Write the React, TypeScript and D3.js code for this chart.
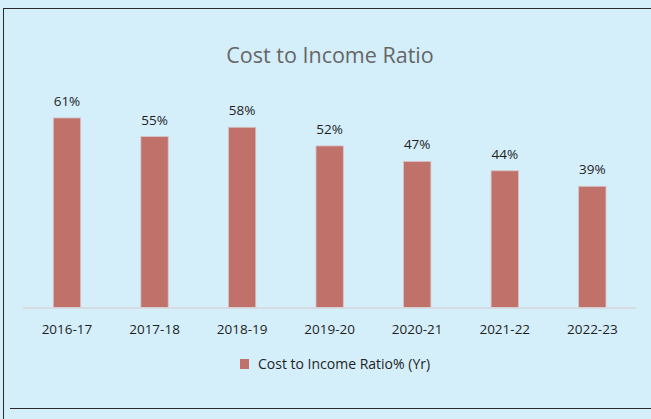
import { useEffect, useRef } from 'react'
import * as d3 from 'd3'

const categories = ['2016-17', '2017-18', '2018-19', '2019-20', '2020-21', '2021-22', '2022-23']
const ratioValues = [61, 55, 58, 52, 47, 44, 39]
const seriesName = 'Cost to Income Ratio% (Yr)'
const chartTitle = 'Cost to Income Ratio'

const width = 651
const height = 419
const font = 'Open Sans, Noto Sans, sans-serif'

export default function App() {
  const svgRef = useRef<SVGSVGElement>(null)

  useEffect(() => {
    if (!svgRef.current) return
    const svg = d3.select(svgRef.current)
    svg.selectAll('*').remove()

    svg.append('rect').attr('width', width).attr('height', height).attr('fill', '#D4EEFA')

    // frame lines
    svg.append('line').attr('x1', 3).attr('x2', width).attr('y1', 8.5).attr('y2', 8.5)
      .attr('stroke', '#2a2a2a').attr('stroke-width', 1)
    svg.append('line').attr('x1', 3.5).attr('x2', 3.5).attr('y1', 8).attr('y2', height)
      .attr('stroke', '#2a2a2a').attr('stroke-width', 1)
    svg.append('line').attr('x1', 10).attr('x2', width).attr('y1', 408.5).attr('y2', 408.5)
      .attr('stroke', '#2a2a2a').attr('stroke-width', 1)

    // title
    svg.append('text')
      .attr('x', 330).attr('y', 62.5)
      .attr('text-anchor', 'middle')
      .attr('fill', '#666666')
      .attr('font-family', font)
      .attr('font-size', '21.5px')
      .text(chartTitle)

    const x = d3.scaleBand<string>()
      .domain(categories)
      .range([23.2, 636.1])
      .paddingInner(0.688)
      .paddingOuter(0.344)

    const y = d3.scaleLinear().domain([0, 70]).range([307.5, 90])

    // bars
    svg.append('g')
      .selectAll('rect')
      .data(ratioValues)
      .enter()
      .append('rect')
      .attr('x', (_, i) => x(categories[i])!)
      .attr('y', (d) => y(d))
      .attr('width', x.bandwidth())
      .attr('height', (d) => y(0) - y(d))
      .attr('fill', '#C0716A')
      .attr('stroke', '#D7C3C6')
      .attr('stroke-width', 0.8)

    // axis baseline
    svg.append('line')
      .attr('x1', 23).attr('x2', 636)
      .attr('y1', y(0) + 0.5).attr('y2', y(0) + 0.5)
      .attr('stroke', '#D9D4DB').attr('stroke-width', 1.5)

    // value labels
    svg.append('g')
      .selectAll('text')
      .data(ratioValues)
      .enter()
      .append('text')
      .attr('x', (_, i) => x(categories[i])! + x.bandwidth() / 2)
      .attr('y', (d) => y(d) - 12)
      .attr('text-anchor', 'middle')
      .attr('fill', '#1f1f1f')
      .attr('font-family', font)
      .attr('font-size', '13.5px')
      .text((d) => `${d}%`)

    // category labels
    svg.append('g')
      .selectAll('text')
      .data(categories)
      .enter()
      .append('text')
      .attr('x', (d) => x(d)! + x.bandwidth() / 2)
      .attr('y', 334.3)
      .attr('text-anchor', 'middle')
      .attr('fill', '#1f1f1f')
      .attr('font-family', font)
      .attr('font-size', '13.5px')
      .text((d) => d)

    // legend
    const legend = svg.append('g').attr('transform', 'translate(240, 359)')
    legend.append('rect').attr('width', 9).attr('height', 10).attr('fill', '#C0716A')
    legend.append('text')
      .attr('x', 18).attr('y', 10)
      .attr('fill', '#1f1f1f')
      .attr('font-family', font)
      .attr('font-size', '14px')
      .text(seriesName)
  }, [])

  return (
    <div style={{ position: 'absolute', left: 0, top: 0 }}>
      <svg ref={svgRef} width={width} height={height} style={{ display: 'block' }} />
    </div>
  )
}
